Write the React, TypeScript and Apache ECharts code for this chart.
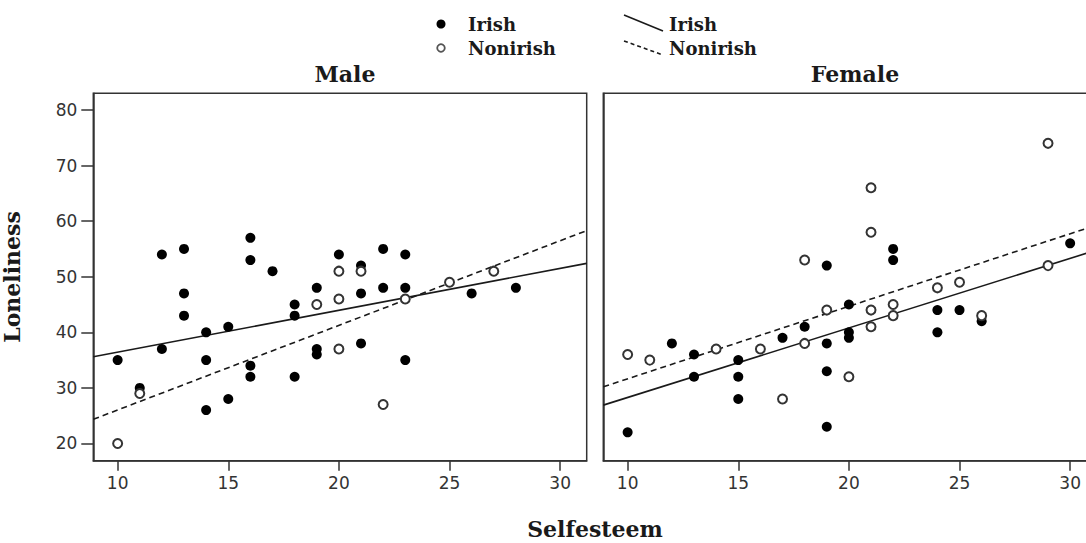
import React, { useEffect, useRef } from "react";
import * as echarts from "echarts";

// ---- data ----
const xTicks = [10, 15, 20, 25, 30];
const yTicks = [20, 30, 40, 50, 60, 70, 80];
const xRange = [8.9, 31.2];
const yRange = [16.9, 83];

const maleIrish: number[][] = [
  [10, 35], [11, 30], [12, 54], [12, 37], [13, 55], [13, 47], [13, 43],
  [14, 40], [14, 35], [14, 26], [15, 41], [15, 28], [16, 57], [16, 53],
  [16, 34], [16, 32], [17, 51], [18, 45], [18, 43], [18, 32], [19, 48],
  [19, 37], [19, 36], [20, 54], [21, 52], [21, 47], [21, 38], [22, 55],
  [22, 48], [23, 54], [23, 48], [23, 35], [26, 47], [28, 48],
];
const maleNonirish: number[][] = [
  [10, 20], [11, 29], [19, 45], [20, 51], [20, 46], [20, 37], [21, 51],
  [22, 27], [23, 46], [25, 49], [27, 51],
];
const femaleIrish: number[][] = [
  [10, 22], [12, 38], [13, 36], [13, 32], [15, 35], [15, 32], [15, 28],
  [17, 39], [18, 41], [19, 52], [19, 38], [19, 33], [19, 23], [20, 45],
  [20, 40], [20, 39], [22, 55], [22, 53], [24, 44], [24, 40], [25, 44],
  [26, 42], [30, 56],
];
const femaleNonirish: number[][] = [
  [10, 36], [11, 35], [14, 37], [16, 37], [17, 28], [18, 53], [18, 38],
  [19, 44], [20, 32], [21, 66], [21, 58], [21, 44], [21, 41], [22, 45],
  [22, 43], [24, 48], [25, 49], [26, 43], [29, 74], [29, 52],
];
// fit lines (end points)
const maleIrishFit: number[][] = [[8.9, 35.6], [31.2, 52.4]];
const maleNonirishFit: number[][] = [[8.9, 24.35], [31.2, 58.3]];
const femaleIrishFit: number[][] = [[8.9, 26.9], [31.2, 54.8]];
const femaleNonirishFit: number[][] = [[8.9, 30.2], [31.2, 59.3]];

const panelTitles = ["Male", "Female"];
const groupNames = ["Irish", "Nonirish"];
const xTitle = "Selfesteem";
const yTitle = "Loneliness";

const INK = "#1a1a1a";
const SERIF = "'DejaVu Serif', serif";
const SANS = "'DejaVu Sans', sans-serif";

export default function App() {
  const ref = useRef<HTMLDivElement>(null);
  useEffect(() => {
    document.body.style.margin = "0";
    const chart = echarts.init(ref.current!, null, { renderer: "svg" });

    const gridW = 493.4;
    const gridH = 367.4;
    const lefts = [93.3, 603.3];
    const grids = lefts.map((l) => ({
      left: l,
      top: 93.3,
      width: gridW,
      height: gridH,
      show: true,
      borderColor: "#333",
      borderWidth: 1.5,
      backgroundColor: "transparent",
    }));

    const xAxisBase = (gi: number) => ({
      type: "value",
      gridIndex: gi,
      min: xRange[0],
      max: xRange[1],
      splitLine: { show: false },
      axisLine: { show: true, onZero: false, lineStyle: { color: "#333", width: 1.5 } },
      axisTick: {
        show: true,
        length: 10,
        customValues: xTicks,
        lineStyle: { color: "#333", width: 1.5 },
      },
      axisLabel: {
        show: true,
        customValues: xTicks,
        margin: 14,
        fontFamily: SANS,
        fontSize: 17,
        color: "#333",
      },
    });

    const yAxisBase = (gi: number, showLabels: boolean) => ({
      type: "value",
      gridIndex: gi,
      min: yRange[0],
      max: yRange[1],
      splitLine: { show: false },
      axisLine: { show: true, onZero: false, lineStyle: { color: "#333", width: 1.5 } },
      axisTick: {
        show: showLabels,
        length: 12,
        customValues: yTicks,
        lineStyle: { color: "#333", width: 1.5 },
      },
      axisLabel: {
        show: showLabels,
        customValues: yTicks,
        margin: 16,
        fontFamily: SANS,
        fontSize: 17,
        color: "#333",
      },
      ...(showLabels
        ? {
            name: yTitle,
            nameLocation: "middle",
            nameGap: 70,
            nameRotate: 90,
            nameTextStyle: {
              fontFamily: SERIF,
              fontWeight: "bold",
              fontSize: 22,
              color: INK,
            },
          }
        : {}),
    });

    const filled = (name: string, data: number[][], gi: number) => ({
      name,
      type: "scatter",
      xAxisIndex: gi,
      yAxisIndex: gi,
      data,
      symbol: "circle",
      symbolSize: 10,
      itemStyle: { color: "#000", opacity: 1 },
      z: 3,
    });
    const open = (name: string, data: number[][], gi: number) => ({
      name,
      type: "scatter",
      xAxisIndex: gi,
      yAxisIndex: gi,
      data,
      symbol: "circle",
      symbolSize: 9,
      itemStyle: { color: "#fff", borderColor: "#333", borderWidth: 2, opacity: 1 },
      z: 4,
    });
    const fit = (name: string, data: number[][], gi: number, dashed: boolean) => ({
      name,
      type: "line",
      xAxisIndex: gi,
      yAxisIndex: gi,
      data,
      symbol: "none",
      silent: true,
      lineStyle: { color: INK, width: 1.6, type: dashed ? [6, 4] : "solid" },
      z: 2,
    });

    const legendX = 441;
    const legendTextX = 468;
    const lineLegendX = 669;

    chart.setOption({
      animation: false,
      backgroundColor: "#fff",
      title: panelTitles.map((t, i) => ({
        text: t,
        left: lefts[i] + gridW / 2,
        top: 58,
        textAlign: "center",
        textStyle: { fontFamily: SERIF, fontWeight: "bold", fontSize: 22, color: INK },
      })),
      grid: grids,
      xAxis: [xAxisBase(0), xAxisBase(1)],
      yAxis: [yAxisBase(0, true), yAxisBase(1, false)],
      series: [
        fit("Irish fit", maleIrishFit, 0, false),
        fit("Nonirish fit", maleNonirishFit, 0, true),
        fit("Irish fit", femaleIrishFit, 1, false),
        fit("Nonirish fit", femaleNonirishFit, 1, true),
        filled(groupNames[0], maleIrish, 0),
        open(groupNames[1], maleNonirish, 0),
        filled(groupNames[0], femaleIrish, 1),
        open(groupNames[1], femaleNonirish, 1),
      ],
      graphic: [
        {
          type: "text",
          x: 595,
          y: 529,
          style: {
            text: xTitle,
            align: "center",
            verticalAlign: "middle",
            font: `bold 22px ${SERIF}`,
            fill: INK,
          },
        },
        // legend: markers
        { type: "circle", shape: { cx: legendX, cy: 24, r: 4.5 }, style: { fill: "#000" } },
        {
          type: "circle",
          shape: { cx: legendX, cy: 48, r: 3.8 },
          style: { fill: "#fff", stroke: "#555", lineWidth: 1.8 },
        },
        {
          type: "text",
          x: legendTextX,
          y: 24,
          style: { text: groupNames[0], verticalAlign: "middle", font: `bold 18px ${SERIF}`, fill: INK },
        },
        {
          type: "text",
          x: legendTextX,
          y: 48,
          style: { text: groupNames[1], verticalAlign: "middle", font: `bold 18px ${SERIF}`, fill: INK },
        },
        // legend: lines
        {
          type: "line",
          shape: { x1: 624, y1: 15, x2: 663, y2: 31 },
          style: { stroke: INK, lineWidth: 1.6 },
        },
        {
          type: "line",
          shape: { x1: 624, y1: 41, x2: 663, y2: 55 },
          style: { stroke: INK, lineWidth: 1.6, lineDash: [4, 3] },
        },
        {
          type: "text",
          x: lineLegendX,
          y: 24,
          style: { text: groupNames[0], verticalAlign: "middle", font: `bold 18px ${SERIF}`, fill: INK },
        },
        {
          type: "text",
          x: lineLegendX,
          y: 48,
          style: { text: groupNames[1], verticalAlign: "middle", font: `bold 18px ${SERIF}`, fill: INK },
        },
      ],
    });
    return () => chart.dispose();
  }, []);
  return (
    <div style={{ width: 1086, height: 543, overflow: "hidden" }}>
      <div ref={ref} style={{ width: 1110, height: 543 }} />
    </div>
  );
}
